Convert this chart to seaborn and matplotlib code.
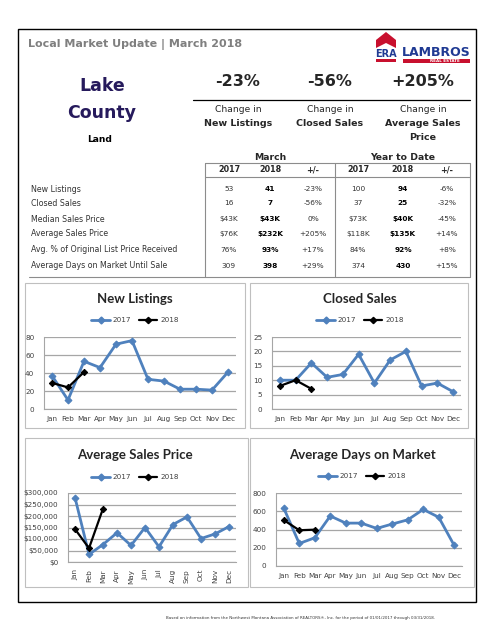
import numpy as np
import pandas as pd
import matplotlib
matplotlib.use("Agg")
import matplotlib.pyplot as plt
from matplotlib.patches import Rectangle, Polygon
from matplotlib.lines import Line2D
import matplotlib.ticker as mticker
import seaborn as sns

# ── data ──────────────────────────────────────────────────────────────────────
MONTHS = ["Jan", "Feb", "Mar", "Apr", "May", "Jun",
          "Jul", "Aug", "Sep", "Oct", "Nov", "Dec"]

listings_2017 = [37, 10, 53, 46, 72, 76, 33, 31, 22, 22, 21, 41]
listings_2018 = [29, 24, 41]
closed_2017   = [10, 10, 16, 11, 12, 19, 9, 17, 20, 8, 9, 6]
closed_2018   = [8, 10, 7]
price_2017    = [280000, 33000, 76000, 127000, 72000, 150000,
                 66000, 163000, 196000, 102000, 122000, 154000]
price_2018    = [143000, 60000, 232000]
days_2017     = [635, 247, 309, 548, 470, 470, 412, 460, 506, 620, 534, 225]
days_2018     = [503, 392, 398]

HEAD_PCTS   = ["-23%", "-56%", "+205%"]
HEAD_LABELS = [("Change in", "New Listings", ""),
               ("Change in", "Closed Sales", ""),
               ("Change in", "Average Sales", "Price")]

ROW_NAMES = ["New Listings", "Closed Sales", "Median Sales Price",
             "Average Sales Price", "Avg. % of Original List Price Received",
             "Average Days on Market Until Sale"]
MAR_2017 = ["53", "16", "$43K", "$76K", "76%", "309"]
MAR_2018 = ["41", "7", "$43K", "$232K", "93%", "398"]
MAR_CHG  = ["-23%", "-56%", "0%", "+205%", "+17%", "+29%"]
YTD_2017 = ["100", "37", "$73K", "$118K", "84%", "374"]
YTD_2018 = ["94", "25", "$40K", "$135K", "92%", "430"]
YTD_CHG  = ["-6%", "-32%", "-45%", "+14%", "+8%", "+15%"]

C17, C18 = "#4f81bd", "#000000"
W, H = 495, 640

sns.set_style("white")
plt.rcParams["font.family"] = ["DejaVu Sans"]

fig = plt.figure(figsize=(W / 100, H / 100), dpi=100)
bg = fig.add_axes([0, 0, 1, 1])
bg.set_xlim(0, W); bg.set_ylim(H, 0); bg.axis("off")


def px_axes(x0, y0, x1, y1):
    return fig.add_axes([x0 / W, 1 - y1 / H, (x1 - x0) / W, (y1 - y0) / H])


# ── frame & header ────────────────────────────────────────────────────────────
bg.add_patch(Rectangle((18, 29), 458, 573, fill=False, ec="black", lw=1.0))
bg.text(28, 45, "Local Market Update | March 2018", fontsize=8, fontweight="bold",
        color="#7f7f7f", va="center")

# logo
bg.add_patch(Polygon([(376, 40), (386, 32), (396, 40), (396, 48), (386, 43), (376, 48)],
                     closed=True, fc="#c8102e", ec="none"))
bg.text(386, 54, "ERA", fontsize=7, fontweight="bold", color="#1f3a93",
        ha="center", va="center")
bg.add_patch(Rectangle((376, 59), 20, 2.5, fc="#c8102e", ec="none"))
bg.text(436, 53, "LAMBROS", fontsize=9, fontweight="bold", color="#1f3a93",
        ha="center", va="center")
bg.add_patch(Rectangle((403, 58.5), 67, 4, fc="#c8102e", ec="none"))
bg.text(445, 60.5, "REAL ESTATE", fontsize=3, fontweight="bold", color="white",
        ha="center", va="center")

bg.text(102, 86, "Lake", fontsize=12.5, fontweight="bold", color="#261a5c",
        ha="center", va="center")
bg.text(102, 113, "County", fontsize=12.5, fontweight="bold", color="#261a5c",
        ha="center", va="center")
bg.text(100, 139, "Land", fontsize=6.6, fontweight="bold", color="black",
        ha="center", va="center")

for cx, pct, (l1, l2, l3) in zip([238, 330, 423], HEAD_PCTS, HEAD_LABELS):
    bg.text(cx, 81, pct, fontsize=11.5, fontweight="bold", ha="center", va="center")
    bg.text(cx, 109, l1, fontsize=6.6, ha="center", va="center")
    bg.text(cx, 123, l2, fontsize=6.8, fontweight="bold", ha="center", va="center")
    if l3:
        bg.text(cx, 137, l3, fontsize=6.8, fontweight="bold", ha="center", va="center")
bg.plot([193, 470], [100, 100], color="black", lw=0.9)

# ── table ─────────────────────────────────────────────────────────────────────
bg.text(270, 157, "March", fontsize=6.7, fontweight="bold", ha="center", va="center")
bg.text(403, 157, "Year to Date", fontsize=6.7, fontweight="bold", ha="center", va="center")
gray = "#8c8c8c"
bg.plot([205, 470], [163, 163], color=gray, lw=0.8)
bg.plot([205, 470], [177, 177], color=gray, lw=0.8)
for xv in [205, 335, 470]:
    bg.plot([xv, xv], [163, 277], color=gray, lw=0.8)
bg.plot([29, 470], [277, 277], color=gray, lw=0.8)

col_x = [229, 270, 313, 358, 403, 447]
for cx, lab in zip(col_x, ["2017", "2018", "+/-", "2017", "2018", "+/-"]):
    bg.text(cx, 170, lab, fontsize=5.8, fontweight="bold", ha="center", va="center")

row_y = [189, 203, 219, 234, 250, 266]
cols = [MAR_2017, MAR_2018, MAR_CHG, YTD_2017, YTD_2018, YTD_CHG]
for i, (ry, name) in enumerate(zip(row_y, ROW_NAMES)):
    bg.text(31, ry, name, fontsize=5.7, color="#333333", va="center")
    for j, (cx, col) in enumerate(zip(col_x, cols)):
        bold = j in (1, 4)
        bg.text(cx, ry, col[i], fontsize=5.3, ha="center", va="center",
                fontweight="bold" if bold else "normal",
                color="black" if bold else "#333333")

# ── charts ────────────────────────────────────────────────────────────────────
box_c = "#bfbfbf"
for (x0, y0, x1, y1) in [(25, 283, 245, 428), (250, 283, 468, 428),
                         (25, 438, 248, 587), (250, 438, 474, 587)]:
    bg.add_patch(Rectangle((x0, y0), x1 - x0, y1 - y0, fill=False, ec=box_c, lw=0.8))

bg.text(301, 618, "Based on information from the Northwest Montana Association of REALTORS®, "
        "Inc. for the period of 01/01/2017 through 03/31/2018.",
        fontsize=2.9, ha="center", va="center", color="#333333")


def draw_chart(rect, title, title_y, leg_y, tcx, v17, v18, ymax, ystep,
               fmt=None, rotate=False):
    ax = px_axes(*rect)
    df17 = pd.DataFrame({"x": range(len(v17)), "y": v17})
    df18 = pd.DataFrame({"x": range(len(v18)), "y": v18})
    sns.lineplot(data=df17, x="x", y="y", ax=ax, color=C17, lw=2.0,
                 marker="D", markersize=3.5, markeredgecolor=C17)
    sns.lineplot(data=df18, x="x", y="y", ax=ax, color=C18, lw=1.6,
                 marker="D", markersize=3.2, markeredgecolor=C18)
    ax.set_xlim(-0.5, 11.5)
    ax.set_ylim(0, ymax)
    ax.set_yticks(np.arange(0, ymax + 1, ystep))
    ax.set_xticks(range(12))
    ax.set_xticklabels(MONTHS, rotation=90 if rotate else 0)
    if fmt:
        ax.yaxis.set_major_formatter(mticker.FuncFormatter(fmt))
    ax.tick_params(axis="both", labelsize=5.2, colors="#404040", length=0)
    ax.tick_params(axis="y", pad=7)
    ax.tick_params(axis="x", pad=5)
    ax.set_xlabel(""); ax.set_ylabel("")
    ax.grid(axis="y", color="#a6a6a6", lw=0.9)
    ax.set_axisbelow(True)
    for s in ["top", "right"]:
        ax.spines[s].set_visible(False)
    for s in ["left", "bottom"]:
        ax.spines[s].set_color("#a6a6a6")
        ax.spines[s].set_linewidth(0.8)
    if ax.get_legend():
        ax.get_legend().remove()

    bg.text(tcx, title_y, title, fontsize=9.5, fontweight="bold", family="Lato",
            ha="center", va="center")
    handles = [Line2D([], [], color=C17, lw=2.0, marker="D", markersize=3.5),
               Line2D([], [], color=C18, lw=1.6, marker="D", markersize=3.2)]
    fig.legend(handles, ["2017", "2018"], loc="center",
               bbox_to_anchor=(tcx / W, 1 - leg_y / H), ncol=2, frameon=False,
               fontsize=5.2, handlelength=2.6, columnspacing=1.0, handletextpad=0.4,
               labelcolor="#404040")
    return ax


draw_chart((44, 337, 236, 409), "New Listings", 299, 320, 135,
           listings_2017, listings_2018, 80, 20)
draw_chart((272, 337, 461, 409), "Closed Sales", 299, 320, 360,
           closed_2017, closed_2018, 25, 5)
draw_chart((68, 493, 236, 562), "Average Sales Price", 455, 477, 135,
           price_2017, price_2018, 300000, 50000,
           fmt=lambda v, p: f"${v:,.0f}", rotate=True)
draw_chart((276, 493, 462, 566), "Average Days on Market", 455, 476, 362,
           days_2017, days_2018, 800, 200)

fig.savefig("out.png", dpi=100)
